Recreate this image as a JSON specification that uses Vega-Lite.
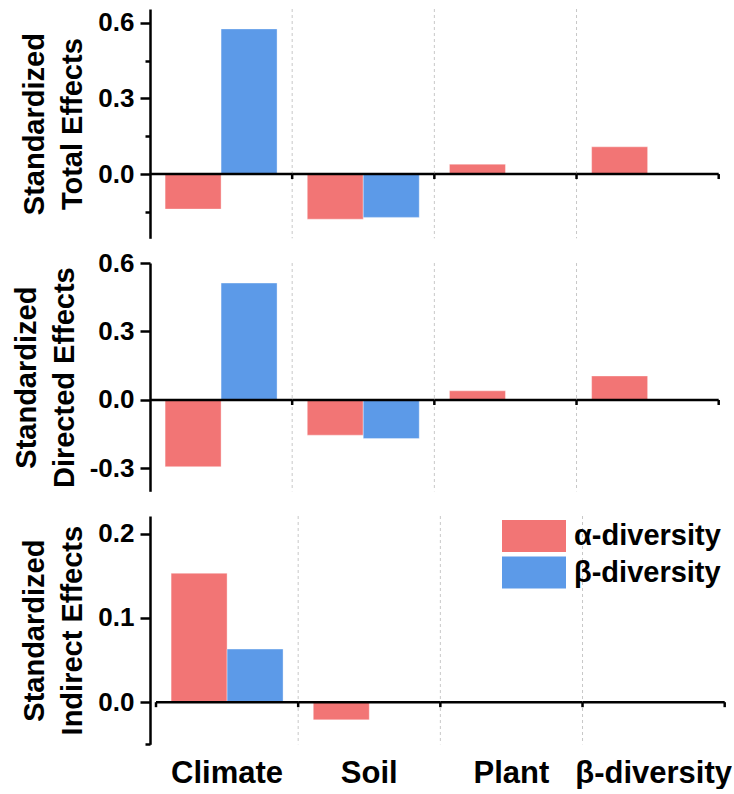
{
  "$schema": "https://vega.github.io/schema/vega-lite/v6.json",
  "background": "white",
  "padding": {"left": 12, "top": 8, "right": 0, "bottom": 0},
  "config": {
    "view": {"stroke": null},
    "font": "Liberation Sans",
    "axis": {
      "grid": false,
      "domainColor": "black",
      "domainWidth": 2.5,
      "tickColor": "black",
      "tickWidth": 2.5,
      "labelFont": "Liberation Sans",
      "labelFontSize": 26,
      "labelFontWeight": "bold",
      "labelColor": "black",
      "labelPadding": 6,
      "titleFont": "Liberation Sans",
      "titleFontSize": 29,
      "titleFontWeight": "bold",
      "titleColor": "black",
      "titleLineHeight": 38,
      "titlePadding": 10
    }
  },
  "datasets": {
    "effects": [
      {"panel": "total", "cat": "Climate", "group": "α-diversity", "value": -0.139},
      {"panel": "total", "cat": "Climate", "group": "β-diversity", "value": 0.576},
      {"panel": "total", "cat": "Soil", "group": "α-diversity", "value": -0.179},
      {"panel": "total", "cat": "Soil", "group": "β-diversity", "value": -0.172},
      {"panel": "total", "cat": "Plant", "group": "α-diversity", "value": 0.039},
      {"panel": "total", "cat": "β-diversity", "group": "α-diversity", "value": 0.108},
      {"panel": "direct", "cat": "Climate", "group": "α-diversity", "value": -0.292},
      {"panel": "direct", "cat": "Climate", "group": "β-diversity", "value": 0.512},
      {"panel": "direct", "cat": "Soil", "group": "α-diversity", "value": -0.154},
      {"panel": "direct", "cat": "Soil", "group": "β-diversity", "value": -0.169},
      {"panel": "direct", "cat": "Plant", "group": "α-diversity", "value": 0.040},
      {"panel": "direct", "cat": "β-diversity", "group": "α-diversity", "value": 0.105},
      {"panel": "indirect", "cat": "Climate", "group": "α-diversity", "value": 0.153},
      {"panel": "indirect", "cat": "Climate", "group": "β-diversity", "value": 0.063},
      {"panel": "indirect", "cat": "Soil", "group": "α-diversity", "value": -0.021}
    ],
    "cats": [
      {"cat": "Climate"},
      {"cat": "Soil"},
      {"cat": "Plant"},
      {"cat": "β-diversity"}
    ]
  },
  "bounds": "flush",
  "spacing": 24,
  "resolve": {"scale": {"color": "independent"}, "legend": {"color": "independent"}},
  "vconcat": [
    {
      "width": 568.7,
      "height": 229.3,
      "layer": [
        {
          "data": {"name": "cats"},
          "transform": [{"filter": "datum.cat !== 'Climate'"}],
          "mark": {"type": "rule", "color": "#c8c8c8", "strokeWidth": 1, "strokeDash": [3, 3]},
          "encoding": {
            "x": {"field": "cat", "type": "nominal", "sort": null, "bandPosition": 0,
                  "scale": {"domain": ["Climate", "Soil", "Plant", "β-diversity"], "paddingInner": 0, "paddingOuter": 0}, "axis": null}
          }
        },
        {
          "data": {"name": "effects"},
          "transform": [{"filter": "datum.panel === 'total'"}],
          "mark": {"type": "bar", "stroke": "white", "strokeOpacity": 0.35, "strokeWidth": 1},
          "encoding": {
            "x": {"field": "cat", "type": "nominal", "sort": null,
                  "scale": {"domain": ["Climate", "Soil", "Plant", "β-diversity"], "paddingInner": 0, "paddingOuter": 0}, "axis": null},
            "xOffset": {"field": "group", "type": "nominal",
                        "scale": {"domain": ["α-diversity", "β-diversity"], "paddingInner": 0, "paddingOuter": 0.27}},
            "y": {"field": "value", "type": "quantitative",
                  "scale": {"domain": [-0.255, 0.655], "nice": false, "zero": false},
                  "axis": {
                    "title": ["Standardized", "Total Effects"],
                    "values": [-0.15, 0, 0.15, 0.3, 0.45, 0.6],
                    "labelExpr": "abs(round(datum.value*100)) % 30 == 0 ? replace(format(datum.value, '.1f'), '\u2212', '-') : ''",
                    "tickSize": {"condition": {"test": "abs(round(datum.value*100)) % 30 == 0", "value": 10}, "value": 5}
                  }},
            "color": {"field": "group", "type": "nominal",
                      "scale": {"domain": ["α-diversity", "β-diversity"], "range": ["#F27575", "#5C9AE8"]}, "legend": null}
          }
        },
        {
          "data": {"name": "cats"},
          "mark": {"type": "rect", "fill": null, "stroke": "black", "strokeWidth": 2.5},
          "encoding": {
            "x": {"field": "cat", "type": "nominal", "sort": null,
                  "scale": {"domain": ["Climate", "Soil", "Plant", "β-diversity"], "paddingInner": 0, "paddingOuter": 0}, "axis": null},
            "y": {"datum": 0},
            "y2": {"datum": 0}
          }
        },
        {
          "data": {"name": "cats"},
          "transform": [{"filter": "datum.cat !== 'Climate'"}],
          "mark": {"type": "rule", "color": "black", "strokeWidth": 2.5, "y2Offset": 5},
          "encoding": {
            "x": {"field": "cat", "type": "nominal", "sort": null, "bandPosition": 0,
                  "scale": {"domain": ["Climate", "Soil", "Plant", "β-diversity"], "paddingInner": 0, "paddingOuter": 0}, "axis": null},
            "y": {"datum": 0},
            "y2": {"datum": 0}
          }
        },
        {
          "data": {"name": "cats"},
          "transform": [{"filter": "datum.cat === 'β-diversity'"}],
          "mark": {"type": "rule", "color": "black", "strokeWidth": 2.5, "y2Offset": 5},
          "encoding": {
            "x": {"field": "cat", "type": "nominal", "sort": null, "bandPosition": 1,
                  "scale": {"domain": ["Climate", "Soil", "Plant", "β-diversity"], "paddingInner": 0, "paddingOuter": 0}, "axis": null},
            "y": {"datum": 0},
            "y2": {"datum": 0}
          }
        }
      ]
    },
    {
      "width": 568.7,
      "height": 228.3,
      "layer": [
        {
          "data": {"name": "cats"},
          "transform": [{"filter": "datum.cat !== 'Climate'"}],
          "mark": {"type": "rule", "color": "#c8c8c8", "strokeWidth": 1, "strokeDash": [3, 3]},
          "encoding": {
            "x": {"field": "cat", "type": "nominal", "sort": null, "bandPosition": 0,
                  "scale": {"domain": ["Climate", "Soil", "Plant", "β-diversity"], "paddingInner": 0, "paddingOuter": 0}, "axis": null}
          }
        },
        {
          "data": {"name": "effects"},
          "transform": [{"filter": "datum.panel === 'direct'"}],
          "mark": {"type": "bar", "stroke": "white", "strokeOpacity": 0.35, "strokeWidth": 1},
          "encoding": {
            "x": {"field": "cat", "type": "nominal", "sort": null,
                  "scale": {"domain": ["Climate", "Soil", "Plant", "β-diversity"], "paddingInner": 0, "paddingOuter": 0}, "axis": null},
            "xOffset": {"field": "group", "type": "nominal",
                        "scale": {"domain": ["α-diversity", "β-diversity"], "paddingInner": 0, "paddingOuter": 0.27}},
            "y": {"field": "value", "type": "quantitative",
                  "scale": {"domain": [-0.4, 0.6], "nice": false, "zero": false},
                  "axis": {
                    "title": ["Standardized", "Directed Effects"],
                    "values": [-0.3, -0.15, 0, 0.15, 0.3, 0.45, 0.6],
                    "labelExpr": "abs(round(datum.value*100)) % 30 == 0 ? replace(format(datum.value, '.1f'), '\u2212', '-') : ''",
                    "tickSize": {"condition": {"test": "abs(round(datum.value*100)) % 30 == 0", "value": 10}, "value": 5}
                  }},
            "color": {"field": "group", "type": "nominal",
                      "scale": {"domain": ["α-diversity", "β-diversity"], "range": ["#F27575", "#5C9AE8"]}, "legend": null}
          }
        },
        {
          "data": {"name": "cats"},
          "mark": {"type": "rect", "fill": null, "stroke": "black", "strokeWidth": 2.5},
          "encoding": {
            "x": {"field": "cat", "type": "nominal", "sort": null,
                  "scale": {"domain": ["Climate", "Soil", "Plant", "β-diversity"], "paddingInner": 0, "paddingOuter": 0}, "axis": null},
            "y": {"datum": 0},
            "y2": {"datum": 0}
          }
        },
        {
          "data": {"name": "cats"},
          "transform": [{"filter": "datum.cat !== 'Climate'"}],
          "mark": {"type": "rule", "color": "black", "strokeWidth": 2.5, "y2Offset": 5},
          "encoding": {
            "x": {"field": "cat", "type": "nominal", "sort": null, "bandPosition": 0,
                  "scale": {"domain": ["Climate", "Soil", "Plant", "β-diversity"], "paddingInner": 0, "paddingOuter": 0}, "axis": null},
            "y": {"datum": 0},
            "y2": {"datum": 0}
          }
        },
        {
          "data": {"name": "cats"},
          "transform": [{"filter": "datum.cat === 'β-diversity'"}],
          "mark": {"type": "rule", "color": "black", "strokeWidth": 2.5, "y2Offset": 5},
          "encoding": {
            "x": {"field": "cat", "type": "nominal", "sort": null, "bandPosition": 1,
                  "scale": {"domain": ["Climate", "Soil", "Plant", "β-diversity"], "paddingInner": 0, "paddingOuter": 0}, "axis": null},
            "y": {"datum": 0},
            "y2": {"datum": 0}
          }
        }
      ]
    },
    {
      "width": 574.7,
      "height": 228.3,
      "layer": [
        {
          "data": {"name": "cats"},
          "transform": [{"filter": "datum.cat !== 'Climate'"}],
          "mark": {"type": "rule", "color": "#c8c8c8", "strokeWidth": 1, "strokeDash": [3, 3]},
          "encoding": {
            "x": {"field": "cat", "type": "nominal", "sort": null, "bandPosition": 0,
                  "scale": {"domain": ["Climate", "Soil", "Plant", "β-diversity"], "paddingInner": 0, "paddingOuter": 0.0211, "align": 1},
                  "axis": {"title": null, "domain": false, "ticks": false, "labelFontSize": 31, "labelPadding": 14, "labelAngle": 0, "labelLimit": 300}}
          }
        },
        {
          "data": {"name": "effects"},
          "transform": [{"filter": "datum.panel === 'indirect'"}],
          "mark": {"type": "bar", "stroke": "white", "strokeOpacity": 0.35, "strokeWidth": 1},
          "encoding": {
            "x": {"field": "cat", "type": "nominal", "sort": null,
                  "scale": {"domain": ["Climate", "Soil", "Plant", "β-diversity"], "paddingInner": 0, "paddingOuter": 0.0211, "align": 1},
                  "axis": {"title": null, "domain": false, "ticks": false, "labelFontSize": 31, "labelPadding": 14, "labelAngle": 0, "labelLimit": 300}},
            "xOffset": {"field": "group", "type": "nominal",
                        "scale": {"domain": ["α-diversity", "β-diversity"], "paddingInner": 0, "paddingOuter": 0.27}},
            "y": {"field": "value", "type": "quantitative",
                  "scale": {"domain": [-0.05, 0.221], "nice": false, "zero": false},
                  "axis": {
                    "title": ["Standardized", "Indirect Effects"],
                    "values": [-0.05, 0, 0.1, 0.2],
                    "labelExpr": "abs(round(datum.value*100)) % 10 == 0 ? replace(format(datum.value, '.1f'), '\u2212', '-') : ''",
                    "tickSize": {"condition": {"test": "abs(round(datum.value*100)) % 10 == 0", "value": 10}, "value": 5}
                  }},
            "color": {"field": "group", "type": "nominal",
                      "scale": {"domain": ["α-diversity", "β-diversity"], "range": ["#F27575", "#5C9AE8"]},
                      "legend": {
                        "orient": "top-right",
                        "offset": 4,
                        "title": null,
                        "symbolType": "M-1,-1H3V1H-1Z",
                        "symbolSize": 1024,
                        "symbolStrokeWidth": 0,
                        "symbolOpacity": 1,
                        "labelFont": "Liberation Sans",
                        "labelFontSize": 29,
                        "labelFontWeight": "bold",
                        "labelColor": "black",
                        "labelOffset": 40,
                        "labelLimit": 300,
                        "rowPadding": 4.5
                      }}
          }
        },
        {
          "data": {"name": "cats"},
          "mark": {"type": "rect", "fill": null, "stroke": "black", "strokeWidth": 2.5},
          "encoding": {
            "x": {"field": "cat", "type": "nominal", "sort": null,
                  "scale": {"domain": ["Climate", "Soil", "Plant", "β-diversity"], "paddingInner": 0, "paddingOuter": 0.0211, "align": 1},
                  "axis": {"title": null, "domain": false, "ticks": false, "labelFontSize": 31, "labelPadding": 14, "labelAngle": 0, "labelLimit": 300}},
            "y": {"datum": 0},
            "y2": {"datum": 0}
          }
        },
        {
          "data": {"name": "cats"},
          "mark": {"type": "rule", "color": "black", "strokeWidth": 2.5, "y2Offset": 5},
          "encoding": {
            "x": {"field": "cat", "type": "nominal", "sort": null, "bandPosition": 0,
                  "scale": {"domain": ["Climate", "Soil", "Plant", "β-diversity"], "paddingInner": 0, "paddingOuter": 0.0211, "align": 1},
                  "axis": {"title": null, "domain": false, "ticks": false, "labelFontSize": 31, "labelPadding": 14, "labelAngle": 0, "labelLimit": 300}},
            "y": {"datum": 0},
            "y2": {"datum": 0}
          }
        },
        {
          "data": {"name": "cats"},
          "transform": [{"filter": "datum.cat === 'β-diversity'"}],
          "mark": {"type": "rule", "color": "black", "strokeWidth": 2.5, "y2Offset": 5},
          "encoding": {
            "x": {"field": "cat", "type": "nominal", "sort": null, "bandPosition": 1,
                  "scale": {"domain": ["Climate", "Soil", "Plant", "β-diversity"], "paddingInner": 0, "paddingOuter": 0.0211, "align": 1},
                  "axis": {"title": null, "domain": false, "ticks": false, "labelFontSize": 31, "labelPadding": 14, "labelAngle": 0, "labelLimit": 300}},
            "y": {"datum": 0},
            "y2": {"datum": 0}
          }
        }
      ]
    }
  ]
}
